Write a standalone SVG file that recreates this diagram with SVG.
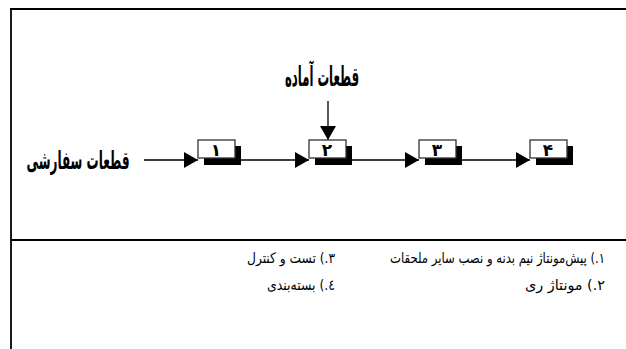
<svg xmlns="http://www.w3.org/2000/svg" width="626" height="349" viewBox="0 0 626 349">
<style>
.frame{stroke:#000;stroke-width:1.8;fill:none}
.box{fill:#fff;stroke:#333;stroke-width:1.3}
.shadow{fill:#000}
.conn{stroke:#000;stroke-width:1.3;fill:none}
.title{font-family:"DejaVu Sans Condensed","DejaVu Sans",sans-serif;font-weight:bold;fill:#000}
.num{font-family:"DejaVu Sans",sans-serif;font-weight:bold;font-size:17px;fill:#000;text-anchor:middle}
.legend{font-family:"DejaVu Sans Condensed","DejaVu Sans",sans-serif;font-size:14.5px;fill:#000;direction:rtl;text-anchor:start}
</style>
<defs>
<marker id="ah" markerWidth="14" markerHeight="16" refX="14" refY="8" orient="auto" markerUnits="userSpaceOnUse">
<path d="M0,0 L14,8 L0,16 Z" fill="#000"/>
</marker>
</defs>
<g id="frame">
<line class="frame" x1="10" y1="9" x2="626" y2="9"/>
<line class="frame" x1="11" y1="8" x2="11" y2="349"/>
<line class="frame" x1="11" y1="240" x2="626" y2="240"/>
</g>
<g id="connectors">
<line class="conn" x1="144" y1="160" x2="198" y2="160" marker-end="url(#ah)"/>
<line class="conn" x1="240" y1="160" x2="309" y2="160" marker-end="url(#ah)"/>
<line class="conn" x1="351" y1="160" x2="419" y2="160" marker-end="url(#ah)"/>
<line class="conn" x1="461" y1="160" x2="530" y2="160" marker-end="url(#ah)"/>
<line class="conn" x1="328" y1="101" x2="328" y2="140" marker-end="url(#ah)"/>
</g>
<g id="label-ready">
<text class="title" x="322" y="86" font-size="27" text-anchor="middle" direction="rtl" textLength="74" lengthAdjust="spacingAndGlyphs">قطعات آماده</text>
</g>
<g id="label-order">
<text class="title" x="78" y="169" font-size="25" text-anchor="middle" direction="rtl" textLength="103" lengthAdjust="spacingAndGlyphs">قطعات سفارشی</text>
</g>
<g id="node1">
<rect class="shadow" x="204" y="146" width="37" height="19"/>
<rect class="box" x="198" y="140" width="37" height="18"/>
<text class="num" x="216" y="156">۱</text>
</g>
<g id="node2">
<rect class="shadow" x="315" y="146" width="37" height="19"/>
<rect class="box" x="309" y="140" width="37" height="18"/>
<text class="num" x="327" y="156">۲</text>
</g>
<g id="node3">
<rect class="shadow" x="425" y="146" width="37" height="19"/>
<rect class="box" x="419" y="140" width="37" height="18"/>
<text class="num" x="437" y="156">۳</text>
</g>
<g id="node4">
<rect class="shadow" x="536" y="146" width="37" height="19"/>
<rect class="box" x="530" y="140" width="37" height="18"/>
<text class="num" x="548" y="156">۴</text>
</g>
<g id="legend">
<text class="legend" x="605" y="263" textLength="215" lengthAdjust="spacingAndGlyphs">۱.) پیش‌مونتاژ نیم بدنه و نصب سایر ملحقات</text>
<text class="legend" x="605" y="290" textLength="80" lengthAdjust="spacingAndGlyphs">۲.) مونتاژ ری</text>
<text class="legend" x="335" y="263" textLength="88" lengthAdjust="spacingAndGlyphs">۳.) تست و کنترل</text>
<text class="legend" x="335" y="290" textLength="68" lengthAdjust="spacingAndGlyphs">٤.) بسته‌بندی</text>
</g>
</svg>
